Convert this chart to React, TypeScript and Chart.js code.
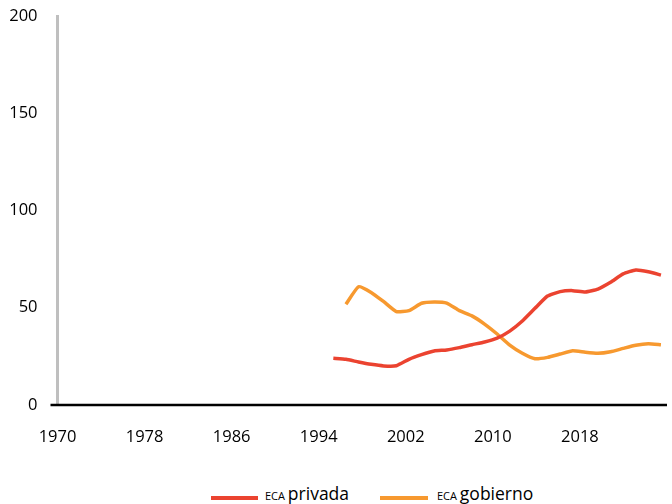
import React, { useEffect, useRef } from "react";
import { Chart, registerables } from "chart.js";

Chart.register(...registerables);

const xTickLabels = [1970, 1978, 1986, 1994, 2002, 2010, 2018];
const yTicks = [0, 50, 100, 150, 200];

const yearsPrivada = [
  1995, 1996, 1997, 1998, 1999, 2000, 2001, 2002, 2003, 2004, 2005, 2006, 2007, 2008,
  2009, 2010, 2011, 2012, 2013, 2014, 2015, 2016, 2017, 2018, 2019, 2020, 2021,
];
const valuesPrivada = [
  24.0, 23.5, 22.1, 20.9, 20.1, 20.2, 23.5, 25.9, 27.8, 28.3, 29.5, 31.0, 32.4, 34.4,
  38.0, 43.2, 49.7, 56.0, 58.3, 58.8, 58.1, 59.6, 63.1, 67.4, 69.4, 68.5, 66.8,
];

const yearsGobierno = [
  1996, 1997, 1998, 1999, 2000, 2001, 2002, 2003, 2004, 2005, 2006, 2007, 2008,
  2009, 2010, 2011, 2012, 2013, 2014, 2015, 2016, 2017, 2018, 2019, 2020, 2021,
];
const valuesGobierno = [
  51.8, 60.8, 57.9, 53.1, 48.0, 48.5, 52.3, 53.0, 52.4, 48.5, 45.8, 41.6, 36.5,
  30.8, 26.6, 23.8, 24.5, 26.2, 27.9, 27.1, 26.6, 27.4, 29.1, 30.7, 31.5, 31.0,
];

const RED = "#EB4330";
const ORANGE = "#F7992F";
const FONT = "'Open Sans', 'Noto Sans', sans-serif";

const axisLinePlugin = {
  id: "axisLine",
  afterDraw(chart: any) {
    const { ctx, chartArea } = chart;
    ctx.save();
    ctx.strokeStyle = "#000000";
    ctx.lineWidth = 2.5;
    ctx.beginPath();
    ctx.moveTo(chartArea.left - 7, chartArea.bottom);
    ctx.lineTo(chartArea.right, chartArea.bottom);
    ctx.stroke();
    ctx.restore();
  },
};

export default function App() {
  const ref = useRef<HTMLCanvasElement | null>(null);

  useEffect(() => {
    if (!ref.current) return;
    const chart = new Chart(ref.current, {
      type: "line",
      data: {
        datasets: [
          {
            label: "ECA privada",
            data: yearsPrivada.map((y, i) => ({ x: y, y: valuesPrivada[i] })),
            borderColor: RED,
            backgroundColor: RED,
            borderWidth: 3.5,
            pointRadius: 0,
            tension: 0.15,
            borderJoinStyle: "round",
            xAxisID: "xData",
            yAxisID: "y",
          },
          {
            label: "ECA gobierno",
            data: yearsGobierno.map((y, i) => ({ x: y, y: valuesGobierno[i] })),
            borderColor: ORANGE,
            backgroundColor: ORANGE,
            borderWidth: 3.5,
            pointRadius: 0,
            tension: 0.15,
            borderJoinStyle: "round",
            xAxisID: "xData",
            yAxisID: "y",
          },
        ],
      },
      options: {
        animation: false,
        responsive: false,
        maintainAspectRatio: false,
        layout: { padding: { top: 16, left: 10, right: 5, bottom: 20 } },
        plugins: {
          legend: { display: false },
          tooltip: { enabled: false },
        },
        scales: {
          x: {
            type: "linear",
            position: "bottom",
            min: 1970,
            max: 2026,
            afterBuildTicks: (scale: any) => {
              scale.ticks = xTickLabels.map((v) => ({ value: v }));
            },
            afterFit: (scale: any) => {
              scale.height = 45;
            },
            ticks: {
              autoSkip: false,
              maxRotation: 0,
              padding: 22,
              color: "#000000",
              font: { family: FONT, size: 16.5 },
              callback: (v: any) => String(v),
            },
            grid: { display: false, drawTicks: false },
            border: { display: false },
          },
          xData: {
            type: "linear",
            display: false,
            min: 1973.11,
            max: 2021.48,
          },
          y: {
            type: "linear",
            position: "left",
            min: 0,
            max: 200,
            afterBuildTicks: (scale: any) => {
              scale.ticks = yTicks.map((v) => ({ value: v }));
            },
            afterFit: (scale: any) => {
              scale.width = 47.5;
              scale.paddingTop = 0;
              scale.paddingBottom = 0;
            },
            ticks: {
              padding: 20,
              color: "#000000",
              font: { family: FONT, size: 16.5 },
            },
            grid: { display: false, drawTicks: false },
            border: { display: true, color: "#BFBFBF", width: 3 },
          },
        },
      },
      plugins: [axisLinePlugin],
    });
    return () => chart.destroy();
  }, []);

  const legendText: React.CSSProperties = {
    position: "absolute",
    top: 483,
    lineHeight: "20px",
    fontFamily: FONT,
    fontSize: 17.5,
    color: "#000000",
    whiteSpace: "nowrap",
  };
  const small: React.CSSProperties = { fontSize: 11 };

  return (
    <div
      style={{
        position: "fixed",
        left: 0,
        top: 0,
        width: 672,
        height: 504,
        background: "#ffffff",
        overflow: "hidden",
      }}
    >
      <canvas
        ref={ref}
        width={672}
        height={470}
        style={{ position: "absolute", left: 0, top: 0, width: 672, height: 470 }}
      />
      <div style={{ position: "absolute", left: 211, top: 495.5, width: 47, height: 4, background: RED }} />
      <div style={{ ...legendText, left: 265 }}>
        <span style={small}>ECA </span>privada
      </div>
      <div style={{ position: "absolute", left: 380, top: 495.5, width: 48, height: 4, background: ORANGE }} />
      <div style={{ ...legendText, left: 437 }}>
        <span style={small}>ECA </span>gobierno
      </div>
    </div>
  );
}
